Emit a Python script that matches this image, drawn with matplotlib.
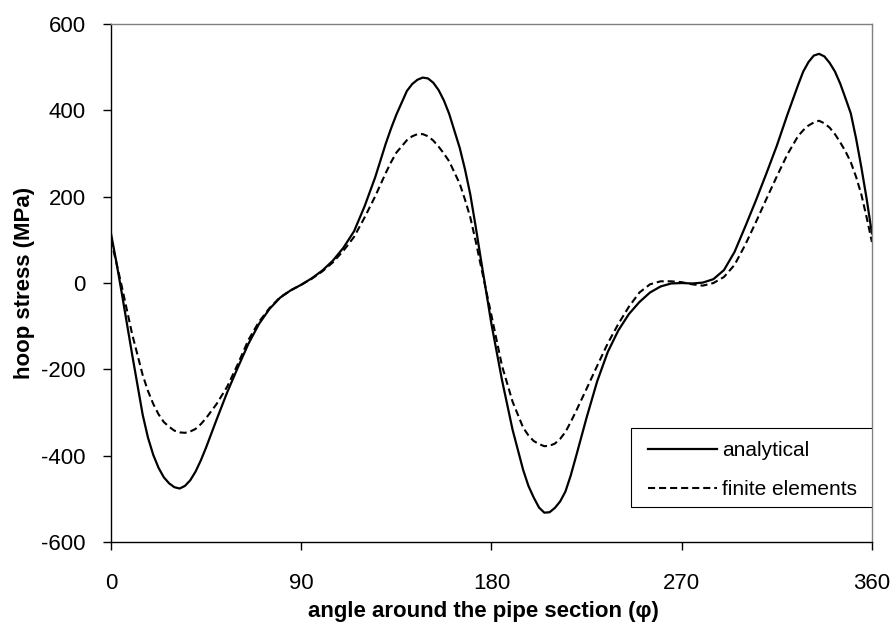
# -*- coding: utf-8 -*-

#%% import modules and set default fonts
import numpy as np
import matplotlib
matplotlib.use('Agg')
import matplotlib.pyplot as plt
from matplotlib.patches import Rectangle

plt.rcParams.update({'font.family': ['Liberation Sans', 'DejaVu Sans']})
plt.rcParams.update({'font.size': 16})
plt.rcParams.update({'axes.linewidth': 1.0})
plt.rcParams.update({'axes.unicode_minus': False})
plt.close('all')

# ======================================================
# DATA
# ======================================================

# angle around the pipe section, degrees
angle = [0, 2.5, 5, 10, 15, 17.5, 20, 22.5, 25, 27.5, 30, 32.5, 35, 37.5,
         40, 42.5, 45, 50, 55, 60, 65, 70, 75, 80, 85, 90, 95, 100, 105,
         110, 115, 120, 125, 127.5, 130, 132.5, 135, 140, 142.5, 145, 147.5,
         150, 152.5, 155, 157.5, 160, 165, 167.5, 170, 172.5, 175, 180, 185,
         190, 195, 197.5, 200, 202.5, 205, 207.5, 210, 212.5, 215, 217.5,
         220, 225, 230, 235, 240, 245, 250, 255, 260, 265, 270, 275, 280,
         285, 290, 295, 300, 305, 310, 315, 320, 325, 327.5, 330, 332.5, 335,
         337.5, 340, 342.5, 345, 347.5, 350, 352.5, 355, 357.5, 360]

# hoop stress, analytical solution (MPa)
analytical = [115, 50, -20, -165, -305, -358, -398, -428, -450, -464, -473,
              -476, -470, -457, -437, -411, -381, -316, -253, -196, -141,
              -95, -60, -34, -17, -4, 11, 29, 52, 82, 120, 178, 245, 284,
              323, 358, 390, 445, 461, 471, 476, 474, 464, 447, 423, 392,
              313, 263, 205, 132, 55, -95, -225, -340, -433, -470, -497,
              -520, -532, -531, -521, -506, -483, -446, -402, -312, -228,
              -160, -110, -72, -44, -22, -8, -1, 0, -1, 1, 9, 30, 72, 130,
              190, 253, 318, 390, 458, 490, 512, 527, 531, 525, 510, 490, 462,
              428, 393, 335, 268, 195, 115]

# hoop stress, finite element model (MPa)
finite_elements = [100, 48, -5, -118, -213, -250, -280, -304, -322, -333,
                   -342, -346, -347, -344, -338, -327, -313, -280, -240,
                   -188, -132, -90, -58, -33, -17, -4, 10, 27, 48, 75, 107,
                   152, 201, 228, 255, 280, 302, 331, 340, 345, 345, 340, 330,
                   316, 300, 282, 230, 193, 152, 98, 40, -75, -192, -275, -335,
                   -353, -366, -373, -378, -377, -372, -361, -345, -322, -297,
                   -245, -192, -140, -95, -55, -22, -3, 4, 4, 2, -3, -6, 0, 14,
                   42, 88, 140, 194, 247, 298, 340, 354, 365, 372, 376, 370,
                   360, 345, 326, 305, 280, 246, 205, 152, 95]

x_ticks = [0, 90, 180, 270, 360]
y_ticks = [-600, -400, -200, 0, 200, 400, 600]

# ======================================================
# PLOT
# ======================================================

fig = plt.figure(figsize=(8.92, 6.28), dpi=100)
ax = fig.add_axes([0.1244, 0.1369, 0.8531, 0.8248])

ax.plot(angle, analytical, color='black', lw=1.6, label='analytical')
ax.plot(angle, finite_elements, color='black', lw=1.5, dashes=(3.4, 1.9),
        label='finite elements')

ax.set_xlim(0, 360)
ax.set_ylim(-600, 600)
ax.set_xticks(x_ticks)
ax.set_yticks(y_ticks)
ax.tick_params(axis='both', direction='out', length=6, width=1,
               colors='black', labelsize=16)
ax.tick_params(axis='x', pad=16)
ax.tick_params(axis='y', pad=12)

ax.spines['top'].set_color('#808080')
ax.spines['right'].set_color('#808080')

ax.set_xlabel('angle around the pipe section (φ)', fontweight='bold',
              fontsize=16)
ax.set_ylabel('hoop stress (MPa)', fontweight='bold', fontsize=16)
ax.xaxis.set_label_coords(0.489, -0.1146)
ax.yaxis.set_label_coords(-0.0999, 0.5)

# legend: entries without frame, box drawn separately (wider side padding)
leg = ax.legend(loc='center left', bbox_to_anchor=(0.7057, 0.139),
                borderaxespad=0, borderpad=0, frameon=False, fontsize=15,
                handlelength=3.3, handletextpad=0.25, labelspacing=0.94)
ax.add_patch(Rectangle((0.6833, 0.0676), 0.3167, 0.1525,
                       transform=ax.transAxes, fill=True, facecolor='white',
                       edgecolor='black', lw=0.8, zorder=4))
leg.set_zorder(5)

fig.savefig('out.png', dpi=100)
